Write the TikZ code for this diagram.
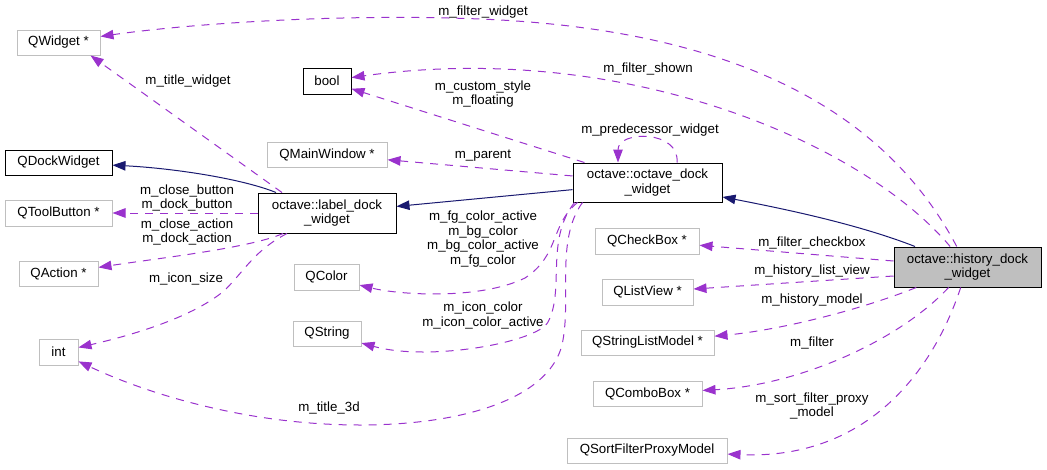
\documentclass[tikz,border=0pt]{standalone}
\usepackage{fontspec}
\setmainfont{Liberation Sans}
\usetikzlibrary{arrows.meta}
\definecolor{usecol}{HTML}{9A32CD}
\definecolor{inhcol}{HTML}{191970}
\definecolor{graybd}{HTML}{BFBFBF}
\begin{document}
\begin{tikzpicture}[x=1pt,y=-1pt,
  every node/.style={font=\fontsize{13.3}{14.6}\selectfont, inner sep=0pt, align=center},
  cls/.style={draw=black, line width=1pt, fill=white},
  ext/.style={draw=graybd, line width=1pt, fill=white},
  cur/.style={draw=black, line width=1pt, fill=graybd},
  useedge/.style={draw=usecol, line width=1pt, dash pattern=on 8pt off 7pt,
    -{Triangle[length=13pt,width=9.5pt,fill=usecol]}},
  inhedge/.style={draw=inhcol, line width=1pt,
    -{Triangle[length=13pt,width=9.5pt,fill=inhcol]}},
  lbl/.style={fill=none}
]
\useasboundingbox (0,0) rectangle (1047,469);

% nodes
\node[ext, minimum width=83pt, minimum height=25pt] (qwidget) at (58.5,42.5) {QWidget *};
\node[cls, minimum width=48pt, minimum height=26pt] (bool) at (327,81) {bool};
\node[cls, minimum width=107pt, minimum height=25pt] (qdock) at (58.5,162.5) {QDockWidget};
\node[ext, minimum width=120pt, minimum height=25pt] (qmain) at (327,154.5) {QMainWindow *};
\node[ext, minimum width=107pt, minimum height=26pt] (qtool) at (58.5,213) {QToolButton *};
\node[cls, minimum width=138pt, minimum height=40pt] (label) at (327,213) {octave::label\_dock\\\_widget};
\node[ext, minimum width=79pt, minimum height=25pt] (qaction) at (58.5,273.5) {QAction *};
\node[ext, minimum width=39pt, minimum height=26pt] (int) at (58.5,352) {int};
\node[ext, minimum width=65pt, minimum height=26pt] (qcolor) at (326.5,277) {QColor};
\node[ext, minimum width=68pt, minimum height=25pt] (qstring) at (327,333.5) {QString};
\node[cls, minimum width=149pt, minimum height=39pt] (octave) at (647.5,182.5) {octave::octave\_dock\\\_widget};
\node[cur, minimum width=147pt, minimum height=40pt] (history) at (967.5,267) {octave::history\_dock\\\_widget};
\node[ext, minimum width=104pt, minimum height=26pt] (qcheck) at (647,241) {QCheckBox *};
\node[ext, minimum width=91pt, minimum height=26pt] (qlist) at (647.5,292) {QListView *};
\node[ext, minimum width=133pt, minimum height=25pt] (qslm) at (647.5,342.5) {QStringListModel *};
\node[ext, minimum width=109pt, minimum height=25pt] (qcombo) at (647.5,393.5) {QComboBox *};
\node[ext, minimum width=160pt, minimum height=25pt] (qsfpm) at (647,450.5) {QSortFilterProxyModel};

% inheritance edges
\draw[inhedge] (history) .. controls (860,225) and (790,210) .. (octave);
\draw[inhedge] (octave) -- (label);
\draw[inhedge] (label) .. controls (240,178) and (170,168) .. (qdock);

% usage edges from history
\draw[useedge] (history) .. controls (890,120) and (750,30) .. (480,19)
  .. controls (330,13) and (180,25) .. (qwidget);
\draw[useedge] (history) .. controls (860,140) and (620,40) .. (bool);
\draw[useedge] (history) -- (qcheck);
\draw[useedge] ([yshift=-9pt]history.west) -- (qlist);
\draw[useedge] (history) .. controls (860,310) and (780,330) .. (qslm);
\draw[useedge] (history) .. controls (900,340) and (800,385) .. (qcombo);
\draw[useedge] (history) .. controls (930,380) and (860,460) .. (qsfpm);

% usage edges from octave_dock_widget
\draw[useedge] (octave) -- (bool);
\draw[useedge] ([xshift=29.5pt]octave.north) .. controls (680,130) and (618,130) .. ([xshift=-29.5pt]octave.north);
\draw[useedge] (octave) -- (qmain);
\draw[useedge] ([xshift=-70pt]octave.south) .. controls (550,225) and (560,255) .. (525,278)
  .. controls (480,300) and (400,295) .. (qcolor);
\draw[useedge] ([xshift=-73pt]octave.south) .. controls (545,240) and (565,290) .. (548,322)
  .. controls (538,342) and (430,362) .. (qstring);
\draw[useedge] ([xshift=-65pt]octave.south) .. controls (555,240) and (572,300) .. (562,345)
  .. controls (548,400) and (460,425) .. (360,425)
  .. controls (250,425) and (150,395) .. (int);

% usage edges from label_dock_widget
\draw[useedge] ([xshift=-45pt]label.north) -- ([xshift=32pt]qwidget.south);
\draw[useedge] (label) -- (qtool);
\draw[useedge] ([xshift=-44pt]label.south) .. controls (250,248) and (160,258) .. (qaction);
\draw[useedge] ([xshift=-40pt]label.south) .. controls (255,250) and (245,270) .. (225,290)
  .. controls (190,320) and (120,338) .. (int);

% labels
\node[lbl] (l1) at (483,12) {m\_filter\_widget};
\node[lbl] (l2) at (648,69) {m\_filter\_shown};
\node[lbl] (l3) at (483,94) {m\_custom\_style\\m\_floating};
\node[lbl] (l4) at (650,130) {m\_predecessor\_widget};
\node[lbl] (l5) at (483,156) {m\_parent};
\node[lbl] (l6) at (188,81) {m\_title\_widget};
\node[lbl] (l7) at (187,198) {m\_close\_button\\m\_dock\_button};
\node[lbl] (l8) at (187,232) {m\_close\_action\\m\_dock\_action};
\node[lbl] (l9) at (186,279) {m\_icon\_size};
\node[lbl] (l10) at (483,239) {m\_fg\_color\_active\\m\_bg\_color\\m\_bg\_color\_active\\m\_fg\_color};
\node[lbl] (l11) at (483,315.5) {m\_icon\_color\\m\_icon\_color\_active};
\node[lbl] (l12) at (329,408) {m\_title\_3d};
\node[lbl] (l13) at (812,243) {m\_filter\_checkbox};
\node[lbl] (l14) at (812,271) {m\_history\_list\_view};
\node[lbl] (l15) at (812,300) {m\_history\_model};
\node[lbl] (l16) at (812,343) {m\_filter};
\node[lbl] (l17) at (812,406) {m\_sort\_filter\_proxy\\\_model};
\end{tikzpicture}
\end{document}
